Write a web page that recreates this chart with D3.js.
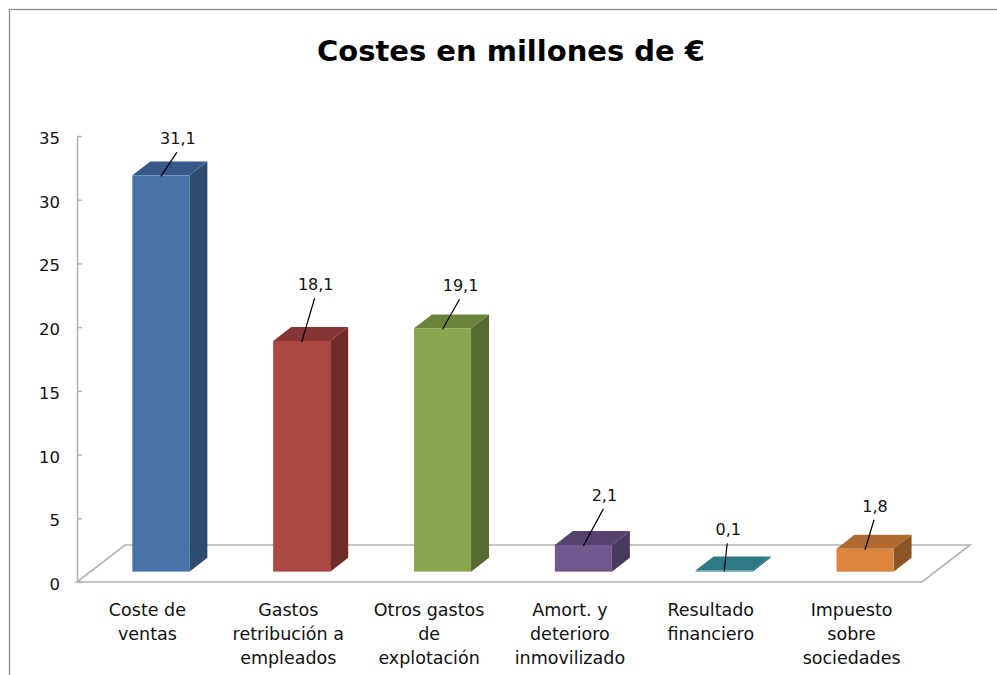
<!DOCTYPE html>
<html>
<head>
  <meta charset="utf-8" />
  <title>Costes en millones de €</title>
  <script src="https://d3js.org/d3.v7.min.js"></script>
  <style>
    body { margin: 0; background: #fff; }
    text { font-family: "DejaVu Sans", sans-serif; }
  </style>
</head>
<body>
  <script>
    // datos
    const categories = ["Coste de ventas", "Gastos retribución a empleados", "Otros gastos de explotación",
      "Amort. y deterioro inmovilizado", "Resultado financiero", "Impuesto sobre sociedades"];
    const categoryLines = [["Coste de", "ventas"], ["Gastos", "retribución a", "empleados"],
      ["Otros gastos", "de", "explotación"], ["Amort. y", "deterioro", "inmovilizado"],
      ["Resultado", "financiero"], ["Impuesto", "sobre", "sociedades"]];
    const values = [31.1, 18.1, 19.1, 2.1, 0.1, 1.8];
    const yTicks = [0, 5, 10, 15, 20, 25, 30, 35];

    // colores: frente, arriba, lado
    const frontColors = ["#4672a7", "#aa4643", "#89a54e", "#71588f", "#3a8ea0", "#db843d"];
    const topColors = ["#36598a", "#853533", "#6b833b", "#574271", "#2f7886", "#b0692f"];
    const sideColors = ["#2d4a6f", "#6e2b29", "#566b31", "#4a3a5f", "#256270", "#8c5526"];

    // desplazamiento manual de las etiquetas (como en el original)
    const labelOffsets = [[17, -37], [14, -57], [18, -43], [21, -50], [4, -41], [10, -43]];

    const width = 997, height = 675;
    const left = 77, right = 922, base = 582, topY = 136;
    const depth = [48, -37];      // fondo del suelo 3D
    const f0 = 0.28, f1 = 0.655;  // profundidad de las barras

    const svg = d3.select("body").append("svg")
      .attr("width", width).attr("height", height);

    // borde del gráfico
    svg.append("rect")
      .attr("x", 9.5).attr("y", 9.5)
      .attr("width", 1000).attr("height", 700)
      .attr("fill", "none").attr("stroke", "#8c8c8c").attr("stroke-width", 1.3);

    svg.append("text")
      .attr("x", 511).attr("y", 61)
      .attr("text-anchor", "middle")
      .style("font-size", "29px").style("font-weight", "bold")
      .text("Costes en millones de €");

    const x = d3.scaleBand().domain(categories).range([left, right]).padding(0);
    const y = d3.scaleLinear().domain([0, 35]).range([base, topY]);
    const barW = x.step() * 0.405;

    // suelo
    const floor = [[left, base], [right, base], [right + depth[0], base + depth[1]], [left + depth[0], base + depth[1]]];
    svg.append("polygon")
      .attr("points", floor.map(p => p.join(",")).join(" "))
      .attr("fill", "none").attr("stroke", "#b3b3b3").attr("stroke-width", 1.6);

    // eje Y
    const axisY = d3.axisLeft(y).tickValues(yTicks).tickSize(-5).tickSizeOuter(0).tickPadding(17);
    const gY = svg.append("g").attr("transform", `translate(${left},0)`).call(axisY);
    gY.select(".domain").attr("stroke", "#b3b3b3").attr("stroke-width", 1.6);
    gY.selectAll(".tick line").attr("stroke", "#b3b3b3").attr("stroke-width", 1.4);
    gY.selectAll(".tick text")
      .attr("dy", "0.45em")
      .style("font-size", "16.5px").style("font-family", "DejaVu Sans, sans-serif")
      .attr("fill", "#111");

    // barras 3D
    const dx0 = depth[0] * f0, dy0 = depth[1] * f0;
    const ddx = depth[0] * (f1 - f0), ddy = depth[1] * (f1 - f0);
    const bars = values.map((v, i) => {
      const cx = x(categories[i]) + x.step() / 2 + dx0;
      return { v, i, x0: cx - barW / 2, x1: cx + barW / 2, cx, yb: y(0) + dy0, yt: y(v) + dy0 };
    });

    const gBars = svg.append("g");
    bars.forEach(b => {
      const g = gBars.append("g");
      g.append("polygon") // lado
        .attr("points", [[b.x1, b.yb], [b.x1 + ddx, b.yb + ddy], [b.x1 + ddx, b.yt + ddy], [b.x1, b.yt]].map(p => p.join(",")).join(" "))
        .attr("fill", sideColors[b.i]);
      g.append("polygon") // arriba
        .attr("points", [[b.x0, b.yt], [b.x1, b.yt], [b.x1 + ddx, b.yt + ddy], [b.x0 + ddx, b.yt + ddy]].map(p => p.join(",")).join(" "))
        .attr("fill", topColors[b.i]);
      g.append("rect") // frente
        .attr("x", b.x0).attr("y", b.yt)
        .attr("width", barW).attr("height", Math.max(0, b.yb - b.yt))
        .attr("fill", frontColors[b.i]);
    });

    // etiquetas de datos
    const fmt = d3.formatLocale({ decimal: ",", thousands: ".", grouping: [3], currency: ["", "€"] }).format(".1f");
    bars.forEach(b => {
      const lx = b.cx + labelOffsets[b.i][0], ly = b.yt + labelOffsets[b.i][1];
      svg.append("line")
        .attr("x1", lx - 1).attr("y1", ly + 14)
        .attr("x2", b.cx).attr("y2", b.yt + 1)
        .attr("stroke", "#000").attr("stroke-width", 1.2);
      svg.append("text")
        .attr("x", lx).attr("y", ly + 6)
        .attr("text-anchor", "middle")
        .style("font-size", "16px").attr("fill", "#111")
        .text(fmt(b.v));
    });

    // etiquetas de categorías
    categoryLines.forEach((lines, i) => {
      const t = svg.append("text")
        .attr("x", x(categories[i]) + x.step() / 2)
        .attr("y", 616)
        .attr("text-anchor", "middle")
        .style("font-size", "17.5px").attr("fill", "#111");
      lines.forEach((s, k) => {
        t.append("tspan")
          .attr("x", x(categories[i]) + x.step() / 2)
          .attr("y", 616 + k * 24)
          .text(s);
      });
    });
  </script>
</body>
</html>
